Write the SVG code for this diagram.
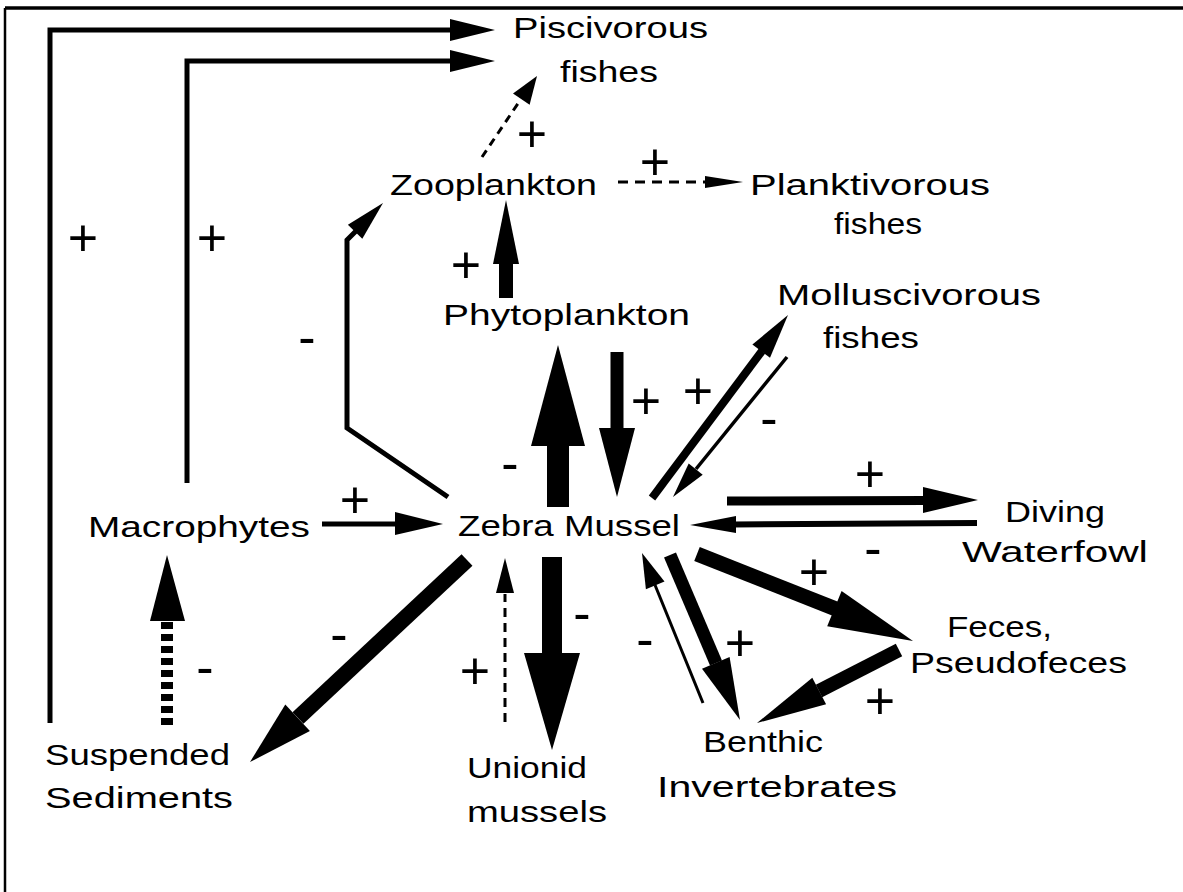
<svg xmlns="http://www.w3.org/2000/svg" width="1183" height="892" viewBox="0 0 1183 892">
<style>
.lbl{font-family:"Liberation Sans",Arial,sans-serif;font-size:30px;fill:#000}
.sg{font-family:"Liberation Sans",Arial,sans-serif;font-size:52px;fill:#000;text-anchor:middle}
.ln{fill:none;stroke:#000;stroke-linecap:butt}
.hd{fill:#000;stroke:none}
</style>
<rect x="0" y="0" width="1183" height="892" fill="#fff"/>
<g id="frame">
<line x1="5" y1="8" x2="1183" y2="8" stroke="#000" stroke-width="3.5"/>
<line x1="5" y1="8" x2="5" y2="892" stroke="#000" stroke-width="2.5"/>
</g>
<g id="connectors">
<!-- Suspended sediments -> Piscivorous (outer) -->
<polyline class="ln" points="50,723 50,30 452,30" stroke-width="5" stroke-linejoin="miter"/>
<polygon class="hd" points="450,19 495,30 450,41"/>
<!-- Macrophytes -> Piscivorous (inner) -->
<polyline class="ln" points="187,483 187,61 452,61" stroke-width="5" stroke-linejoin="miter"/>
<polygon class="hd" points="450,50 495,61 450,72"/>
<!-- Zooplankton -> Piscivorous dashed -->
<line class="ln" x1="482" y1="157" x2="521" y2="99" stroke-width="3" stroke-dasharray="8 6"/>
<polygon class="hd" points="529.6,104.8 537,76 513,93.6"/>
<!-- Zooplankton -> Planktivorous dashed -->
<line class="ln" x1="618" y1="182" x2="706" y2="182" stroke-width="3" stroke-dasharray="10 7"/>
<polygon class="hd" points="705,176 743,182 705,188"/>
<!-- Phytoplankton -> Zooplankton -->
<line class="ln" x1="506" y1="298" x2="506" y2="262" stroke-width="14"/>
<polygon class="hd" points="493,264 506,200 519,264"/>
<!-- Zebra Mussel -> Zooplankton (-) -->
<polyline class="ln" points="448,497 347,428 347,240 356,231" stroke-width="5" stroke-linejoin="miter"/>
<polygon class="hd" points="362.3,238.7 383,203 347.9,224.7"/>
<!-- Zebra Mussel -> Phytoplankton -->
<line class="ln" x1="558" y1="507" x2="558" y2="444" stroke-width="22"/>
<polygon class="hd" points="531,446 558,345 585,446"/>
<!-- Phytoplankton -> Zebra Mussel -->
<line class="ln" x1="617" y1="352" x2="617" y2="430" stroke-width="13"/>
<polygon class="hd" points="599,428 617,497 635,428"/>
<!-- Zebra Mussel -> Molluscivorous -->
<line class="ln" x1="652" y1="498" x2="762" y2="351" stroke-width="8" stroke-linecap="round"/>
<polygon class="hd" points="770,357.7 788,315 752.4,344.5"/>
<!-- Molluscivorous -> Zebra Mussel -->
<line class="ln" x1="787" y1="357" x2="696" y2="469" stroke-width="3.5"/>
<polygon class="hd" points="702.7,474.8 673,497 688.7,463.4"/>
<!-- Zebra Mussel -> Diving Waterfowl -->
<line class="ln" x1="727" y1="501" x2="925" y2="500.5" stroke-width="9"/>
<polygon class="hd" points="923,487 978,500 923,513"/>
<!-- Diving Waterfowl -> Zebra Mussel -->
<line class="ln" x1="977" y1="523" x2="733" y2="524.5" stroke-width="6"/>
<polygon class="hd" points="736,516 690,525 736,533"/>
<!-- Zebra Mussel -> Feces -->
<line class="ln" x1="697" y1="554" x2="836" y2="609" stroke-width="15"/>
<polygon class="hd" points="827.2,626.3 913,641 841.6,591.1"/>
<!-- Feces -> Benthic -->
<line class="ln" x1="899" y1="650" x2="819" y2="691" stroke-width="14"/>
<polygon class="hd" points="826.1,704.3 757,723 812.3,677.7"/>
<!-- Zebra Mussel -> Benthic -->
<line class="ln" x1="670" y1="555" x2="716" y2="663" stroke-width="13"/>
<polygon class="hd" points="729.6,657 740,720 702,668.8"/>
<!-- Benthic -> Zebra Mussel -->
<line class="ln" x1="703" y1="703" x2="655" y2="585" stroke-width="3"/>
<polygon class="hd" points="664.5,581.6 642,553 645.9,589.2"/>
<!-- Zebra Mussel -> Unionid -->
<line class="ln" x1="552" y1="557" x2="552" y2="655" stroke-width="20"/>
<polygon class="hd" points="524,653 552,750 580,653"/>
<!-- Unionid -> Zebra Mussel dashed -->
<line class="ln" x1="505" y1="722" x2="505" y2="594" stroke-width="3" stroke-dasharray="9 6"/>
<polygon class="hd" points="496,593 505,558 514,593"/>
<!-- Zebra Mussel -> Suspended Sediments -->
<line class="ln" x1="467" y1="560" x2="298" y2="718" stroke-width="16"/>
<polygon class="hd" points="309.9,730.9 250,762 285.3,704.5"/>
<!-- Suspended Sediments -> Macrophytes dashed -->
<line class="ln" x1="167" y1="725" x2="167" y2="620" stroke-width="12" stroke-dasharray="7 5"/>
<polygon class="hd" points="150,621 167,555 185,621"/>
<!-- Macrophytes -> Zebra Mussel -->
<line class="ln" x1="322" y1="524" x2="397" y2="524" stroke-width="5"/>
<polygon class="hd" points="395,512 443,524 395,535"/>
</g>
<g id="signs">
<text class="sg" x="83" y="256">+</text>
<text class="sg" x="212" y="256">+</text>
<text class="sg" x="307" y="355">-</text>
<text class="sg" x="532" y="152">+</text>
<text class="sg" x="655" y="180">+</text>
<text class="sg" x="466" y="283">+</text>
<text class="sg" x="646" y="419">+</text>
<text class="sg" x="698" y="409">+</text>
<text class="sg" x="769" y="436">-</text>
<text class="sg" x="510" y="481">-</text>
<text class="sg" x="870" y="492">+</text>
<text class="sg" x="355" y="518">+</text>
<text class="sg" x="873" y="566">-</text>
<text class="sg" x="814" y="590">+</text>
<text class="sg" x="880" y="719">+</text>
<text class="sg" x="339" y="652">-</text>
<text class="sg" x="205" y="685">-</text>
<text class="sg" x="475" y="689">+</text>
<text class="sg" x="582" y="631">-</text>
<text class="sg" x="645" y="657">-</text>
<text class="sg" x="740" y="661">+</text>
</g>
<g id="piscivorous"><text class="lbl" x="513" y="38" textLength="195" lengthAdjust="spacingAndGlyphs">Piscivorous</text><text class="lbl" x="560" y="82" textLength="98" lengthAdjust="spacingAndGlyphs">fishes</text></g>
<g id="zooplankton"><text class="lbl" x="390" y="195" textLength="207" lengthAdjust="spacingAndGlyphs">Zooplankton</text></g>
<g id="planktivorous"><text class="lbl" x="750" y="195" textLength="240" lengthAdjust="spacingAndGlyphs">Planktivorous</text><text class="lbl" x="834" y="234" textLength="88" lengthAdjust="spacingAndGlyphs">fishes</text></g>
<g id="phytoplankton"><text class="lbl" x="443" y="325" textLength="247" lengthAdjust="spacingAndGlyphs">Phytoplankton</text></g>
<g id="molluscivorous"><text class="lbl" x="777" y="305" textLength="264" lengthAdjust="spacingAndGlyphs">Molluscivorous</text><text class="lbl" x="823" y="348" textLength="96" lengthAdjust="spacingAndGlyphs">fishes</text></g>
<g id="zebra-mussel"><text class="lbl" x="458" y="536" textLength="222" lengthAdjust="spacingAndGlyphs">Zebra  Mussel</text></g>
<g id="macrophytes"><text class="lbl" x="88" y="537" textLength="222" lengthAdjust="spacingAndGlyphs">Macrophytes</text></g>
<g id="diving-waterfowl"><text class="lbl" x="1005" y="522" textLength="100" lengthAdjust="spacingAndGlyphs">Diving</text><text class="lbl" x="962" y="562" textLength="186" lengthAdjust="spacingAndGlyphs">Waterfowl</text></g>
<g id="feces"><text class="lbl" x="947" y="637" textLength="105" lengthAdjust="spacingAndGlyphs">Feces,</text><text class="lbl" x="910" y="673" textLength="217" lengthAdjust="spacingAndGlyphs">Pseudofeces</text></g>
<g id="suspended-sediments"><text class="lbl" x="45" y="765" textLength="185" lengthAdjust="spacingAndGlyphs">Suspended</text><text class="lbl" x="45" y="808" textLength="188" lengthAdjust="spacingAndGlyphs">Sediments</text></g>
<g id="unionid"><text class="lbl" x="467" y="778" textLength="120" lengthAdjust="spacingAndGlyphs">Unionid</text><text class="lbl" x="467" y="822" textLength="140" lengthAdjust="spacingAndGlyphs">mussels</text></g>
<g id="benthic"><text class="lbl" x="703" y="752" textLength="120" lengthAdjust="spacingAndGlyphs">Benthic</text><text class="lbl" x="657" y="797" textLength="240" lengthAdjust="spacingAndGlyphs">Invertebrates</text></g>
</svg>
